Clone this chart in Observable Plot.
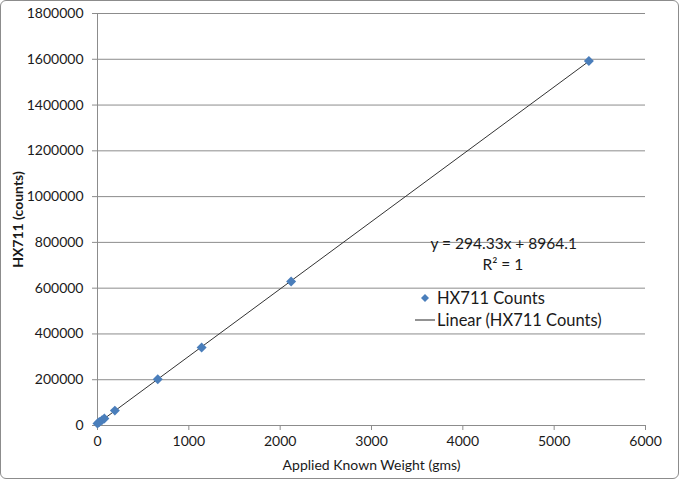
<!DOCTYPE html>
<html>
<head>
<meta charset="utf-8">
<script src="https://cdn.jsdelivr.net/npm/d3@7"></script>
<script src="https://cdn.jsdelivr.net/npm/@observablehq/plot@0.6"></script>
<style>
  html, body { margin: 0; padding: 0; background: #fff; }
  #wrap { position: relative; width: 680px; height: 480px; font-family: Lato, "Open Sans", sans-serif; }
  #frame { position: absolute; left: 0; top: 0; width: 677px; height: 477px; border: 1.5px solid #8c8c8c; border-radius: 6px; pointer-events: none; }
  #legend { position: absolute; left: 415px; top: 287px; font-size: 16.5px; color: #1a1a1a; line-height: 22px; }
  #legend .row { display: flex; align-items: center; }
  #legend svg { width: 20px; height: 12px; margin-right: 2px; }
  g[aria-label="y-axis label"] text { font-weight: bold; }
</style>
</head>
<body>
<div id="wrap">
  <div id="chart"></div>
  <div id="legend">
    <div class="row"><svg viewBox="0 0 20 12"><path d="M10 2 L14 6 L10 10 L6 6 Z" fill="#4a7ebb"/></svg><span>HX711 Counts</span></div>
    <div class="row"><svg viewBox="0 0 20 12"><line x1="0" y1="6" x2="20" y2="6" stroke="#262626" stroke-width="1"/></svg><span>Linear (HX711 Counts)</span></div>
  </div>
  <div id="frame"></div>
</div>
<script>
// Data
const weights = [0, 20, 50, 75, 190, 660, 1140, 2120, 5380];
const counts  = [9000, 15000, 23500, 31000, 65000, 202000, 341000, 629000, 1593000];
const xTicks = [0, 1000, 2000, 3000, 4000, 5000, 6000];
const yTicks = [0, 200000, 400000, 600000, 800000, 1000000, 1200000, 1400000, 1600000, 1800000];
const equationLines = ["y = 294.33x + 8964.1", "R² = 1"];

const data = weights.map((w, i) => ({w, c: counts[i]}));

const chart = Plot.plot({
  width: 680,
  height: 480,
  marginLeft: 97,
  marginRight: 35,
  marginTop: 13,
  marginBottom: 55,
  style: { fontFamily: "Lato, 'Open Sans', sans-serif", fontSize: "13.5px", color: "#1a1a1a", background: "transparent" },
  x: { domain: [0, 6000], ticks: xTicks, tickFormat: "d", label: "Applied Known Weight (gms)", labelAnchor: "center", labelArrow: "none", labelOffset: 44 },
  y: { domain: [0, 1800000], ticks: yTicks, tickFormat: "d", label: "HX711 (counts)", labelAnchor: "center", labelArrow: "none", labelOffset: 84 },
  marks: [
    Plot.gridY(yTicks, { stroke: "#8c8c8c", strokeOpacity: 1 }),
    Plot.ruleX([0], { stroke: "#8c8c8c" }),
    Plot.ruleY([0], { stroke: "#8c8c8c" }),
    Plot.axisY({ ticks: yTicks, tickFormat: "d", tickSize: 5, tickPadding: 9, stroke: "#8c8c8c", label: "HX711 (counts)", labelAnchor: "center", labelArrow: "none", labelOffset: 84, fontSize: 14 }),
    Plot.axisX({ ticks: xTicks, tickFormat: "d", tickSize: 5, tickPadding: 6, stroke: "#8c8c8c", label: "Applied Known Weight (gms)", labelAnchor: "center", labelArrow: "none", labelOffset: 44, fontSize: 14 }),
    Plot.linearRegressionY(data, { x: "w", y: "c", stroke: "#333", strokeWidth: 1, ci: 0 }),
    Plot.dot(data, { x: "w", y: "c", symbol: "diamond2", r: 4.5, fill: "#4a7ebb", stroke: "none" }),
    Plot.text([equationLines[0]], { frameAnchor: "top-left", dx: 333, dy: 224, text: d => d, fontSize: 15.5, fill: "#1a1a1a", textAnchor: "start" }),
    Plot.text([equationLines[1]], { frameAnchor: "top-left", dx: 385, dy: 245, text: d => d, fontSize: 15.5, fill: "#1a1a1a", textAnchor: "start" })
  ]
});
document.getElementById("chart").appendChild(chart);
</script>
</body>
</html>
